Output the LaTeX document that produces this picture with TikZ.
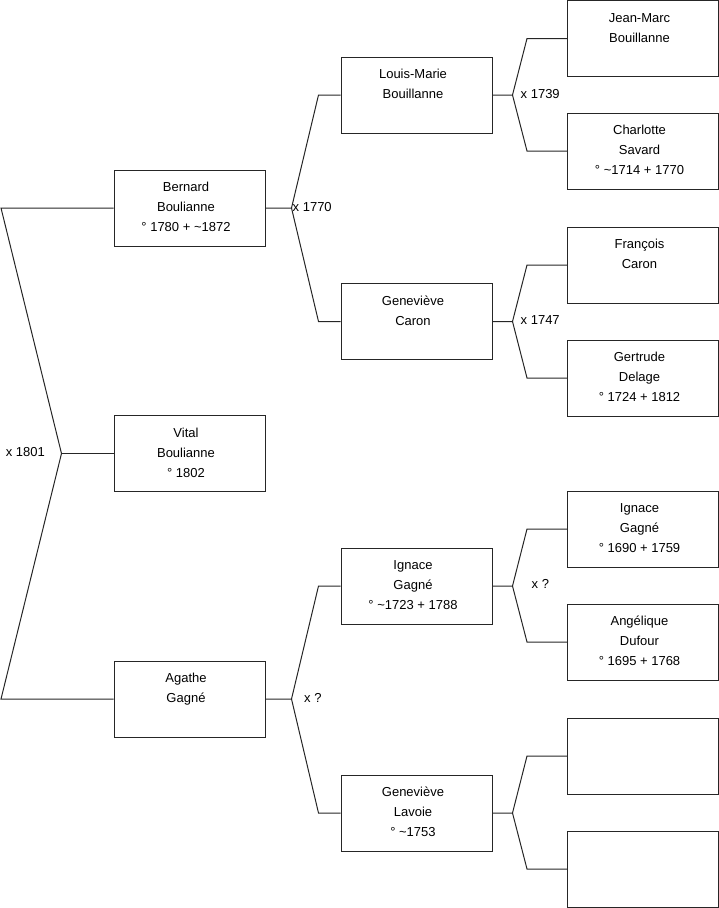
\documentclass[tikz,border=0pt]{standalone}
\usepackage{fontspec}
\setmainfont{Liberation Sans}
\usetikzlibrary{calc}
\begin{document}
\begin{tikzpicture}[x=1pt,y=-1pt,
  person/.style={draw=black!85, line width=1pt, minimum width=151pt, minimum height=76pt, inner sep=0pt},
  txt/.style={align=center, inner sep=0pt, anchor=north, font=\fontsize{13}{20}\selectfont, xshift=-3.5pt, yshift=-8pt},
  link/.style={draw=black!85, line width=1pt},
  lbl/.style={inner sep=0pt, font=\fontsize{13}{16}\selectfont}]
\useasboundingbox (0,0) rectangle (719,908);

% level 3 (right column)
\node[person] (jm) at (643,38.5) {};
\node[person] (cs) at (643,151) {};
\node[person] (fc) at (643,265) {};
\node[person] (gd) at (643,378) {};
\node[person] (ig3) at (643,529) {};
\node[person] (ad) at (643,642) {};
\node[person] (e1) at (643,756) {};
\node[person] (e2) at (643,869) {};

% level 2
\node[person] (lm) at (416.5,95) {};
\node[person] (gc) at (416.5,321.5) {};
\node[person] (ig2) at (416.5,586) {};
\node[person] (gl) at (416.5,813) {};

% level 1
\node[person] (bb) at (189.5,208) {};
\node[person] (vb) at (189.5,453.5) {};
\node[person] (ag) at (189.5,699) {};

% texts
\node[txt] at (jm.north) {\rule{0pt}{14pt}Jean-Marc\\Bouillanne};
\node[txt] at (cs.north) {\rule{0pt}{14pt}Charlotte\\Savard\\° \textasciitilde1714 + 1770};
\node[txt] at (fc.north) {\rule{0pt}{14pt}François\\Caron};
\node[txt] at (gd.north) {\rule{0pt}{14pt}Gertrude\\Delage\\° 1724 + 1812};
\node[txt] at (ig3.north) {\rule{0pt}{14pt}Ignace\\Gagné\\° 1690 + 1759};
\node[txt] at (ad.north) {\rule{0pt}{14pt}Angélique\\Dufour\\° 1695 + 1768};
\node[txt] at (lm.north) {\rule{0pt}{14pt}Louis-Marie\\Bouillanne};
\node[txt] at (gc.north) {\rule{0pt}{14pt}Geneviève\\Caron};
\node[txt] at (ig2.north) {\rule{0pt}{14pt}Ignace\\Gagné\\° \textasciitilde1723 + 1788};
\node[txt] at (gl.north) {\rule{0pt}{14pt}Geneviève\\Lavoie\\° \textasciitilde1753};
\node[txt] at (bb.north) {\rule{0pt}{14pt}Bernard\\Boulianne\\° 1780 + \textasciitilde1872};
\node[txt] at (vb.north) {\rule{0pt}{14pt}Vital\\Boulianne\\° 1802};
\node[txt] at (ag.north) {\rule{0pt}{14pt}Agathe\\Gagné};

% level 0 bracket
\coordinate (a0) at (61.5,453.5);
\coordinate (c0t) at (1,208);
\coordinate (c0b) at (1,699);
\draw[link] (bb.west) -- (c0t) -- (a0) -- (c0b) -- (ag.west);
\draw[link] (a0) -- (vb.west);

% level 1 -> 2
\coordinate (a1) at ($(bb.east)+(26,0)$);
\draw[link] (bb.east) -- (a1) -- ($(lm.west)+(-22,0)$) -- (lm.west);
\draw[link] (a1) -- ($(gc.west)+(-22,0)$) -- (gc.west);
\coordinate (a2) at ($(ag.east)+(26,0)$);
\draw[link] (ag.east) -- (a2) -- ($(ig2.west)+(-22,0)$) -- (ig2.west);
\draw[link] (a2) -- ($(gl.west)+(-22,0)$) -- (gl.west);

% level 2 -> 3
\coordinate (a3) at ($(lm.east)+(20,0)$);
\draw[link] (lm.east) -- (a3) -- ($(jm.west)+(-40,0)$) -- (jm.west);
\draw[link] (a3) -- ($(cs.west)+(-40,0)$) -- (cs.west);
\coordinate (a4) at ($(gc.east)+(20,0)$);
\draw[link] (gc.east) -- (a4) -- ($(fc.west)+(-40,0)$) -- (fc.west);
\draw[link] (a4) -- ($(gd.west)+(-40,0)$) -- (gd.west);
\coordinate (a5) at ($(ig2.east)+(20,0)$);
\draw[link] (ig2.east) -- (a5) -- ($(ig3.west)+(-40,0)$) -- (ig3.west);
\draw[link] (a5) -- ($(ad.west)+(-40,0)$) -- (ad.west);
\coordinate (a6) at ($(gl.east)+(20,0)$);
\draw[link] (gl.east) -- (a6) -- ($(e1.west)+(-40,0)$) -- (e1.west);
\draw[link] (a6) -- ($(e2.west)+(-40,0)$) -- (e2.west);

% marriage labels
\node[lbl, anchor=east] at ([xshift=-16.5pt,yshift=1pt]a0) {x 1801};
\node[lbl, anchor=west] at ([xshift=1pt,yshift=1pt]a1) {x 1770};
\node[lbl, anchor=west] at ([xshift=12.5pt,yshift=1pt]a2) {x ?};
\node[lbl, anchor=west] at ([xshift=8pt,yshift=1pt]a3) {x 1739};
\node[lbl, anchor=west] at ([xshift=8pt,yshift=1pt]a4) {x 1747};
\node[lbl, anchor=west] at ([xshift=19pt,yshift=2pt]a5) {x ?};
\end{tikzpicture}
\end{document}
